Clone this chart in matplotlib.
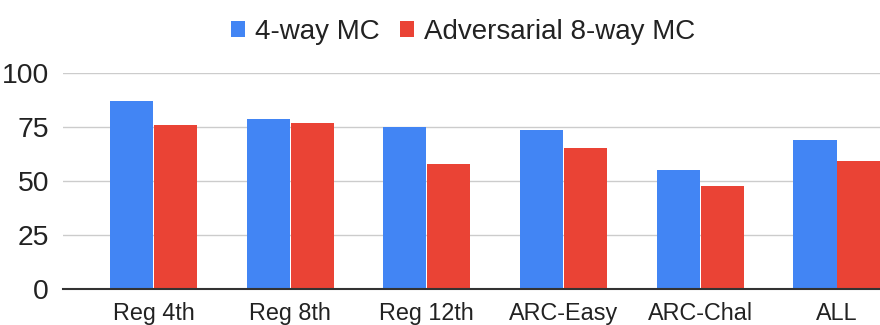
import numpy as np
import matplotlib
matplotlib.use("Agg")
import matplotlib.pyplot as plt

categories = ["Reg 4th", "Reg 8th", "Reg 12th", "ARC-Easy", "ARC-Chal", "ALL"]
four_way = [87.3, 78.7, 75.0, 73.9, 55.2, 69.1]
adversarial = [76.1, 76.8, 57.9, 65.3, 47.7, 59.5]
yticks = [0, 25, 50, 75, 100]

plt.rcParams['font.family'] = ['Liberation Sans', 'DejaVu Sans']

fig = plt.figure(figsize=(8.8, 3.25), dpi=100)
ax = fig.add_axes([0.0716, 0.110, 0.9284, 0.6645])

x = np.arange(len(categories))
w = 0.315
ax.bar(x - w / 2 - 0.003, four_way, w, color="#4285F4", label="4-way MC", zorder=3)
ax.bar(x + w / 2 + 0.003, adversarial, w, color="#EA4335", label="Adversarial 8-way MC", zorder=3)

ax.set_xlim(-0.662, 5.315)
ax.set_ylim(0, 100)
ax.set_yticks(yticks)
ax.set_xticks(x)
ax.set_xticklabels(categories, fontsize=16.8)
ax.tick_params(axis="y", labelsize=20.4, length=0, pad=10)
ax.tick_params(axis="x", length=0, pad=9, colors="#222222")
ax.tick_params(axis="y", colors="#222222")
ax.grid(axis="y", color="#cccccc", linewidth=1, zorder=0)
for s in ["top", "right", "left"]:
    ax.spines[s].set_visible(False)
ax.spines["bottom"].set_color("#333333")
ax.spines["bottom"].set_linewidth(1.5)
ax.spines["bottom"].set_zorder(4)

fig.legend(loc="center", bbox_to_anchor=(463 / 880, 1 - 32 / 325), ncol=2,
           frameon=False, fontsize=20, handlelength=0.48, handleheight=0.48,
           handletextpad=0.36, columnspacing=0.75, labelcolor="#222222")

fig.savefig("out.png", dpi=100)
